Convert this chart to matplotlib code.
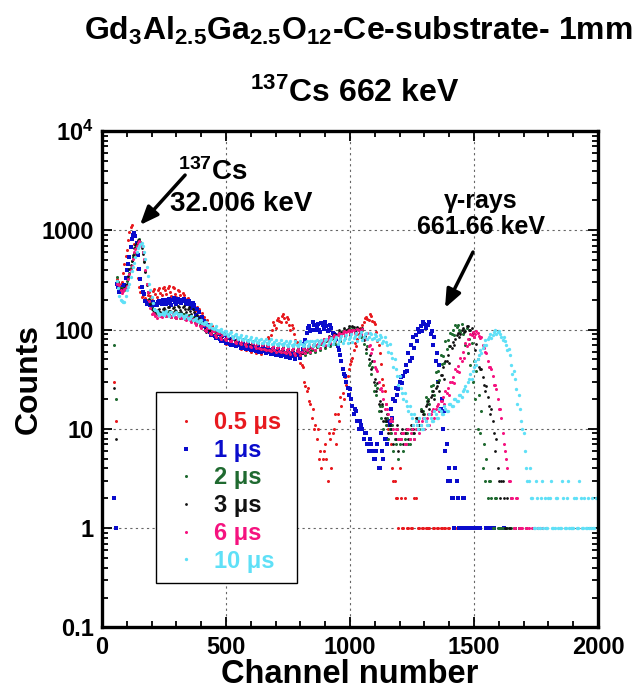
import numpy as np
import matplotlib
matplotlib.use("Agg")
import matplotlib.pyplot as plt
from matplotlib.patches import Rectangle
from matplotlib.ticker import FixedLocator, MultipleLocator, FixedFormatter, NullFormatter

plt.rcParams['font.family'] = ['Liberation Sans', 'DejaVu Sans']
plt.rcParams['font.weight'] = 'bold'
plt.rcParams['mathtext.fontset'] = 'custom'
plt.rcParams['mathtext.rm'] = 'Liberation Sans:bold'
plt.rcParams['mathtext.bf'] = 'Liberation Sans:bold'
plt.rcParams['mathtext.it'] = 'Liberation Sans:bold'
plt.rcParams['mathtext.default'] = 'rm'

# two interleaved channel grids (50, 60, ... and 55, 65, ...), counts read
# off the spectra; 0 = empty channel
channel = np.arange(50, 2001, 10)
channel_half = np.arange(55, 2000, 10)

counts_05us = [
    30, 320, 270, 300, 460, 640, 960, 1120, 720, 410,
    270, 215, 235, 200, 240, 210, 255, 215, 260, 225,
    270, 230, 275, 220, 260, 215, 245, 200, 225, 185,
    200, 165, 180, 145, 160, 125, 135, 105, 115, 92,
    100, 82, 96, 78, 92, 72, 86, 70, 84, 68,
    80, 64, 78, 62, 75, 60, 73, 58, 70, 57,
    72, 62, 85, 88, 118, 105, 132, 118, 142, 120,
    128, 100, 105, 78, 68, 46, 42, 27, 26, 18,
    16, 11, 10, 6, 5, 7, 3, 8, 9, 14,
    14, 21, 23, 33, 34, 45, 52, 74, 80, 105,
    110, 132, 128, 145, 122, 115, 76, 58, 32, 24,
    11, 9, 4, 3, 2, 4, 1, 2, 1, 0,
    1, 2, 0, 1, 1, 0, 1, 1, 0, 1,
    1, 0, 1, 1, 0, 1, 0, 0, 1, 0,
    0, 1, 0, 0, 0, 1, 0, 0, 0, 0,
    0, 0, 0, 0, 0, 0, 0, 0, 0, 0,
    0, 0, 0, 0, 0, 0, 0, 0, 0, 0,
    0, 0, 0, 0, 0, 0, 0, 0, 0, 0,
    0, 0, 0, 0, 0, 0, 0, 0, 0, 0,
    0, 0, 0, 0, 0, 0,
]
counts_05us_half = [
    12, 300, 285, 370, 550, 800, 1080, 940, 560, 330,
    240, 225, 210, 225, 220, 245, 230, 250, 235, 265,
    250, 265, 240, 270, 230, 250, 225, 235, 205, 210,
    180, 190, 155, 170, 138, 148, 118, 125, 100, 108,
    88, 94, 82, 88, 76, 84, 74, 80, 72, 78,
    68, 76, 66, 72, 64, 70, 62, 68, 60, 66,
    64, 74, 80, 100, 110, 125, 122, 138, 130, 135,
    112, 110, 90, 75, 55,
    44, 30, 24, 19, 13, 10, 8, 5, 4, 6,
    5, 9, 4, 10, 7, 12, 17, 20, 28, 40,
    48, 62, 68, 90, 95, 118, 135, 125, 138, 118,
    95, 70, 45, 28, 18, 10, 7, 3, 2, 1,
    2, 1, 0, 1, 1, 0, 2, 1, 0, 1,
    1, 1, 0, 1, 0, 1, 1, 0, 1, 1,
    0, 0, 1, 0, 0, 0, 0, 1, 0, 0,
    0, 0, 0, 0, 0, 0, 0, 0, 0, 0,
    0, 0, 0, 0, 0, 0, 0, 0, 0, 0,
    0, 0, 0, 0, 0, 0, 0, 0, 0, 0,
    0, 0, 0, 0, 0, 0, 0, 0, 0, 0,
    0, 0, 0, 0, 0, 0, 0, 0, 0, 0,
]

counts_1us = [
    2, 290, 240, 270, 280, 400, 540, 820, 950, 740,
    410, 270, 230, 180, 185, 170, 180, 175, 195, 180,
    200, 180, 205, 175, 210, 180, 200, 185, 205, 180,
    195, 165, 175, 140, 150, 118, 122, 98, 106, 88,
    98, 82, 90, 76, 88, 74, 82, 70, 80, 68,
    77, 66, 74, 64, 72, 62, 70, 61, 69, 59,
    68, 58, 66, 57, 64, 56, 62, 54, 60, 53,
    60, 52, 58, 51, 57, 52, 64, 78, 104, 96,
    120, 98, 115, 95, 112, 118, 96, 110, 92, 88,
    68, 55, 40, 34, 26, 25, 17, 16, 12, 12,
    10, 9, 7, 8, 6, 5, 7, 4, 6, 8,
    7, 11, 13, 19, 22, 30, 29, 37, 38, 48,
    52, 66, 76, 95, 96, 115, 112, 118, 96, 84,
    58, 44, 20, 15, 7, 4, 2, 1, 3, 1,
    1, 2, 1, 1, 0, 1, 0, 1, 0, 0,
    1, 0, 0, 1, 0, 0, 0, 1, 0, 0,
    0, 0, 0, 0, 0, 0, 0, 0, 0, 0,
    0, 0, 0, 0, 0, 0, 0, 0, 0, 0,
    0, 0, 0, 0, 0, 0, 0, 0, 0, 0,
    0, 0, 0, 0, 0, 0,
]
counts_1us_half = [
    1, 270, 250, 265, 330, 460, 680, 900, 880, 560,
    320, 240, 195, 180, 175, 190, 178, 188, 185, 198,
    190, 198, 185, 200, 190, 205, 188, 198, 192, 188,
    180, 185, 160, 162, 130, 135, 108, 112, 95, 100,
    86, 94, 80, 86, 76, 84, 72, 80, 70, 76,
    70, 72, 66, 70, 64, 68, 62, 66, 60, 64,
    61, 64, 59, 62, 57, 60, 56, 58, 55, 57,
    55, 57, 54, 56, 55,
    58, 72, 92, 108, 100, 112, 104, 98, 116, 102,
    108, 98, 104, 90, 80, 62, 48, 36, 30, 22,
    20, 14, 15, 10, 11, 8, 9, 6, 7, 5,
    6, 4, 9, 5, 8, 12, 16, 20, 26, 25,
    33, 34, 44, 58, 70, 84, 88, 102, 108, 120,
    104, 110, 90, 70, 48, 30, 16, 10, 6, 3,
    3, 2, 4, 2, 1, 2, 1, 1, 0, 1,
    1, 0, 1, 0, 0, 0, 1, 0, 0, 0,
    0, 0, 0, 0, 0, 0, 0, 0, 0, 0,
    0, 0, 0, 0, 0, 0, 0, 0, 0, 0,
    0, 0, 0, 0, 0, 0, 0, 0, 0, 0,
    0, 0, 0, 0, 0, 0, 0, 0, 0, 0,
]

counts_2us = [
    70, 340, 270, 260, 250, 310, 370, 490, 590, 730,
    810, 690, 490, 290, 205, 165, 160, 145, 150, 140,
    152, 138, 155, 135, 150, 132, 148, 130, 145, 128,
    140, 122, 135, 115, 125, 108, 115, 98, 104, 92,
    100, 86, 95, 82, 92, 78, 88, 76, 84, 74,
    83, 72, 80, 70, 78, 68, 76, 66, 74, 64,
    72, 62, 71, 61, 69, 60, 68, 59, 67, 58,
    66, 57, 65, 56, 64, 55, 64, 56, 66, 58,
    68, 60, 70, 62, 74, 65, 78, 68, 82, 72,
    88, 76, 92, 82, 100, 88, 106, 94, 104, 92,
    98, 80, 68, 46, 42, 28, 26, 17, 17, 12,
    13, 10, 11, 8, 10, 7, 9, 8, 9, 7,
    11, 8, 12, 10, 15, 14, 19, 18, 24, 22,
    30, 31, 45, 46, 64, 68, 90, 88, 106, 98,
    115, 100, 104, 80, 74, 48, 38, 22, 15, 7,
    5, 3, 2, 1, 2, 1, 1, 0, 1, 0,
    1, 0, 0, 1, 0, 0, 0, 0, 0, 0,
    0, 0, 0, 0, 0, 0, 0, 0, 0, 0,
    0, 0, 0, 0, 0, 0, 0, 0, 0, 0,
    0, 0, 0, 0, 0, 0,
]
counts_2us_half = [
    20, 300, 260, 255, 270, 330, 420, 540, 660, 770,
    760, 600, 390, 240, 185, 160, 150, 155, 142, 148,
    140, 150, 136, 148, 134, 146, 130, 142, 128, 138,
    128, 132, 118, 124, 110, 114, 100, 104, 94, 98,
    90, 94, 84, 88, 80, 86, 78, 82, 76, 80,
    74, 78, 72, 76, 70, 74, 68, 72, 66, 70,
    64, 68, 63, 66, 62, 65, 61, 64, 60, 63,
    59, 62, 58, 61, 59,
    58, 64, 60, 66, 63, 70, 67, 74, 71, 78,
    76, 82, 80, 88, 84, 94, 90, 98, 96, 104,
    96, 102, 90, 100, 84, 72, 58, 44, 36, 24,
    22, 15, 13, 10, 11, 8, 9, 6, 7, 5,
    8, 6, 9, 7, 10, 9, 12, 11, 16, 15,
    21, 20, 27, 28, 37, 38, 55, 54, 76, 78,
    92, 100, 110, 112, 95, 90, 70, 58, 44, 30,
    20, 10, 9, 4, 3, 2, 3, 1, 2, 1,
    1, 1, 0, 1, 0, 0, 1, 0, 0, 0,
    0, 0, 0, 0, 0, 0, 0, 0, 0, 0,
    0, 0, 0, 0, 0, 0, 0, 0, 0, 0,
    0, 0, 0, 0, 0, 0, 0, 0, 0, 0,
]

counts_3us = [
    26, 310, 280, 245, 265, 290, 410, 490, 660, 750,
    800, 670, 480, 280, 200, 160, 155, 150, 160, 148,
    165, 152, 170, 150, 168, 155, 170, 152, 172, 150,
    168, 142, 152, 128, 130, 108, 112, 95, 100, 90,
    98, 85, 93, 82, 90, 80, 86, 78, 84, 74,
    82, 72, 80, 70, 77, 68, 75, 66, 73, 64,
    71, 62, 70, 61, 68, 60, 67, 59, 66, 58,
    65, 57, 64, 56, 64, 57, 66, 59, 68, 61,
    70, 62, 72, 65, 76, 68, 80, 72, 85, 76,
    90, 80, 95, 86, 102, 92, 108, 98, 107, 95,
    104, 86, 80, 56, 48, 32, 29, 19, 18, 13,
    14, 11, 12, 9, 11, 8, 10, 9, 10, 8,
    11, 9, 13, 11, 15, 13, 18, 16, 22, 20,
    27, 24, 35, 32, 48, 46, 66, 70, 88, 84,
    100, 94, 108, 98, 104, 84, 72, 42, 40, 28,
    27, 17, 16, 9, 8, 3, 3, 2, 1, 1,
    2, 1, 0, 1, 0, 0, 1, 0, 0, 0,
    0, 1, 0, 0, 0, 0, 0, 0, 0, 0,
    0, 0, 0, 0, 0, 0, 0, 0, 0, 0,
    0, 0, 0, 0, 0, 0,
]
counts_3us_half = [
    8, 290, 255, 250, 280, 350, 450, 570, 710, 790,
    750, 580, 380, 240, 180, 158, 152, 158, 150, 160,
    158, 168, 155, 165, 158, 172, 156, 168, 160, 162,
    155, 160, 135, 140, 118, 120, 102, 104, 94, 96,
    88, 94, 84, 90, 80, 86, 78, 82, 76, 80,
    74, 78, 72, 76, 70, 74, 68, 72, 66, 70,
    64, 68, 63, 66, 62, 65, 61, 64, 60, 63,
    59, 62, 58, 62, 60,
    58, 65, 62, 68, 66, 72, 70, 76, 74, 80,
    78, 86, 84, 90, 88, 98, 94, 104, 100, 108,
    98, 106, 94, 102, 88, 78, 64, 50, 40, 30,
    24, 18, 15, 12, 12, 9, 10, 7, 8, 6,
    9, 7, 10, 8, 11, 10, 13, 12, 15, 14,
    17, 19, 21, 24, 26, 30, 35, 42, 48, 55,
    68, 75, 80, 92, 90, 104, 96, 108, 100, 92,
    62, 50, 40, 33, 24, 21, 14, 12, 6, 4,
    2, 3, 1, 2, 1, 0, 1, 0, 1, 0,
    0, 0, 0, 0, 0, 0, 0, 0, 0, 0,
    0, 0, 0, 0, 0, 0, 0, 0, 0, 0,
    0, 0, 0, 0, 0, 0, 0, 0, 0, 0,
]

counts_6us = [
    0, 290, 280, 235, 255, 275, 360, 440, 610, 690,
    780, 690, 510, 290, 195, 145, 145, 130, 142, 135,
    146, 138, 145, 134, 146, 132, 142, 130, 138, 125,
    134, 120, 128, 112, 120, 104, 110, 97, 103, 90,
    97, 85, 93, 81, 90, 78, 87, 76, 84, 73,
    80, 71, 78, 69, 76, 67, 74, 66, 73, 64,
    71, 62, 69, 61, 68, 60, 67, 59, 66, 58,
    65, 57, 65, 56, 64, 56, 65, 58, 67, 60,
    69, 62, 72, 66, 76, 70, 80, 74, 84, 78,
    88, 82, 92, 86, 96, 90, 100, 93, 102, 94,
    101, 90, 92, 70, 64, 42, 38, 25, 24, 16,
    16, 12, 12, 9, 10, 8, 9, 7, 10, 8,
    10, 8, 11, 9, 12, 10, 13, 11, 15, 13,
    17, 15, 19, 18, 23, 22, 30, 29, 38, 37,
    48, 52, 68, 72, 88, 85, 97, 86, 84, 66,
    58, 42, 40, 28, 25, 16, 13, 7, 5, 3,
    2, 1, 2, 1, 1, 0, 1, 1, 0, 1,
    0, 1, 0, 0, 1, 0, 0, 0, 0, 0,
    0, 0, 0, 0, 0, 0, 0, 0, 0, 0,
    0, 0, 0, 0, 0, 0,
]
counts_6us_half = [
    0, 285, 250, 245, 265, 320, 400, 520, 650, 750,
    740, 600, 400, 240, 165, 148, 138, 140, 136, 142,
    140, 144, 136, 142, 135, 140, 133, 138, 128, 134,
    124, 128, 116, 120, 108, 112, 100, 104, 92, 96,
    88, 92, 84, 88, 80, 84, 77, 81, 75, 79,
    73, 77, 71, 75, 69, 73, 68, 71, 66, 70,
    64, 68, 63, 66, 62, 65, 61, 64, 60, 63,
    59, 62, 58, 61, 60,
    60, 64, 63, 68, 66, 72, 70, 76, 74, 80,
    79, 84, 82, 88, 86, 92, 90, 96, 94, 100,
    95, 100, 93, 98, 90, 84, 80, 68, 58, 48,
    40, 30, 26, 20, 18, 14, 13, 10, 10, 8,
    8, 9, 7, 10, 9, 11, 10, 12, 11, 13,
    12, 14, 14, 16, 16, 18, 19, 21, 24, 26,
    30, 33, 40, 43, 52, 60, 74, 80, 90, 95,
    90, 92, 82, 70, 60, 48, 42, 34, 28, 20,
    16, 9, 6, 4, 3, 2, 1, 2, 1, 1,
    0, 1, 0, 1, 0, 0, 0, 1, 0, 0,
    0, 0, 0, 0, 0, 0, 0, 0, 0, 0,
    0, 0, 0, 0, 0, 0, 0, 0, 0, 0,
]

counts_10us = [
    0, 310, 220, 195, 190, 250, 290, 390, 470, 610,
    690, 740, 610, 430, 290, 215, 160, 155, 140, 145,
    140, 155, 138, 152, 145, 150, 138, 145, 132, 140,
    128, 138, 124, 132, 118, 126, 114, 120, 106, 114,
    102, 108, 96, 102, 90, 97, 86, 94, 82, 90,
    80, 88, 78, 86, 76, 84, 75, 83, 74, 81,
    73, 81, 72, 80, 71, 79, 70, 78, 70, 77,
    69, 77, 69, 76, 68, 76, 68, 75, 68, 76,
    68, 77, 69, 77, 70, 78, 70, 79, 71, 80,
    72, 81, 73, 83, 74, 85, 75, 86, 76, 88,
    78, 90, 80, 92, 80, 90, 78, 88, 74, 84,
    70, 72, 52, 50, 34, 34, 23, 23, 17, 17,
    13, 14, 11, 13, 10, 13, 11, 14, 12, 15,
    13, 16, 14, 17, 15, 18, 17, 20, 19, 22,
    21, 25, 24, 32, 32, 42, 44, 55, 58, 70,
    70, 84, 82, 94, 90, 97, 84, 84, 70, 64,
    44, 38, 25, 22, 12, 9, 4, 3, 2, 1,
    3, 1, 2, 1, 1, 2, 3, 1, 2, 1,
    1, 2, 1, 3, 1, 1, 2, 1, 2, 1,
    1, 2, 1, 1, 2, 1,
]
counts_10us_half = [
    0, 260, 200, 190, 220, 270, 340, 430, 540, 660,
    720, 700, 520, 350, 250, 185, 158, 148, 143, 150,
    148, 142, 150, 140, 148, 144, 142, 136, 138, 130,
    132, 126, 128, 122, 124, 116, 118, 110, 112, 104,
    104, 98, 100, 94, 96, 90, 92, 86, 88, 84,
    84, 80, 82, 78, 80, 76, 79, 75, 78, 74,
    77, 73, 76, 72, 75, 72, 74, 71, 74, 70,
    73, 70, 72, 70, 72,
    72, 70, 76, 71, 77, 72, 78, 73, 79, 74,
    80, 75, 82, 76, 84, 77, 86, 78, 88, 80,
    90, 82, 92, 84, 94, 85, 92, 84, 90, 82,
    86, 80, 84, 76, 75, 60, 58, 42, 40, 28,
    26, 20, 19, 15, 14, 11, 12, 10, 11, 10,
    12, 11, 13, 12, 14, 13, 15, 14, 16, 15,
    18, 17, 20, 19, 22, 24, 27, 30, 36, 38,
    48, 50, 62, 66, 78, 80, 90, 88, 98, 94,
    90, 78, 76, 62, 56, 36, 32, 18, 16, 10,
    6, 3, 4, 2, 1, 2, 1, 3, 2, 1,
    2, 1, 1, 2, 1, 3, 1, 2, 1, 1,
    2, 1, 3, 1, 2, 1, 1, 2, 1, 2,
]

series = [
    ("0.5 \u03bcs", counts_05us, counts_05us_half, "#e8191e", "o", 2.2),
    ("1 \u03bcs", counts_1us, counts_1us_half, "#0a0ccc", "s", 2.6),
    ("2 \u03bcs", counts_2us, counts_2us_half, "#1f6a30", "o", 2.2),
    ("3 \u03bcs", counts_3us, counts_3us_half, "#111111", "o", 2.0),
    ("6 \u03bcs", counts_6us, counts_6us_half, "#f5127f", "o", 2.2),
    ("10 \u03bcs", counts_10us, counts_10us_half, "#5fe0f7", "o", 2.4),
]

fig = plt.figure(figsize=(6.38, 6.91), dpi=100)
ax = fig.add_axes([0.1599, 0.0919, 0.7774, 0.7185])

handles = []
for label, counts, counts_half, color, marker, ms in series:
    x = np.concatenate([channel, channel_half])
    c = np.array(counts + counts_half, dtype=float)
    keep = c > 0
    h, = ax.plot(x[keep], c[keep], ls="none", marker=marker, ms=ms,
                 mew=0, color=color, label=label)
    handles.append(h)

ax.set_yscale("log")
ax.set_xlim(0, 2000)
ax.set_ylim(0.1, 1e4)

ax.xaxis.set_major_locator(MultipleLocator(500))
ax.xaxis.set_minor_locator(MultipleLocator(100))
yt = [0.1, 1, 10, 100, 1000, 10000]
ax.yaxis.set_major_locator(FixedLocator(yt))
ax.yaxis.set_major_formatter(FixedFormatter(["0.1", "1", "10", "100", "1000", "10$^4$"]))
ax.yaxis.set_minor_locator(FixedLocator(
    [m * 10.0 ** e for e in range(-1, 4) for m in range(2, 10)]))
ax.yaxis.set_minor_formatter(NullFormatter())

ax.tick_params(which="both", direction="in", top=True, right=True,
               labelsize=17, width=1.3)
ax.tick_params(which="major", length=7, pad=6)
ax.tick_params(which="minor", length=4)
for s in ax.spines.values():
    s.set_linewidth(2.4)

ax.grid(which="major", ls=(0, (2, 3)), color="0.4", lw=0.8)

ax.set_xlabel("Channel number", fontsize=23.5, fontweight="bold", labelpad=0)
ax.set_ylabel("Counts", fontsize=23, fontweight="bold", labelpad=-2)

fig.text(0.561, 0.955, "Gd$_3$Al$_{2.5}$Ga$_{2.5}$O$_{12}$-Ce-substrate- 1mm",
         ha="center", va="center", fontsize=23, fontweight="bold")
fig.text(0.556, 0.865, "$^{137}$Cs 662 keV",
         ha="center", va="center", fontsize=23, fontweight="bold")

arrow = dict(arrowstyle="-|>,head_width=0.45,head_length=1.1", lw=2.5,
             color="black", shrinkA=0, shrinkB=0)
ax.annotate("", xy=(153, 1130), xytext=(335, 3600), arrowprops=arrow)
ax.annotate("", xy=(1383, 165), xytext=(1496, 604), arrowprops=arrow)
ax.text(306, 3215, "$^{137}$Cs", ha="left", va="baseline",
        fontsize=20, fontweight="bold")
ax.text(560, 1563, "32.006 keV", ha="center", va="baseline",
        fontsize=20, fontweight="bold")
ax.text(1528, 1460, "\u03b3-rays\n661.66 keV", ha="center", va="center",
        fontsize=18, fontweight="bold", linespacing=1.1)

# legend box drawn separately so its size matches the original frame
box = Rectangle((0.109, 0.0896), 0.284, 0.3844, transform=ax.transAxes,
                facecolor="white", edgecolor="black", lw=1.0, zorder=4)
ax.add_patch(box)
leg = ax.legend(handles=handles, loc="upper left",
                bbox_to_anchor=(0.107, 0.474),
                fontsize=17, frameon=False,
                borderpad=0.8, labelspacing=0.2, handlelength=1.0,
                handletextpad=0.7, borderaxespad=0, markerscale=1.0)
leg.set_zorder(5)
for txt, s in zip(leg.get_texts(), series):
    txt.set_color(s[3])

fig.savefig("out.png", dpi=100)
